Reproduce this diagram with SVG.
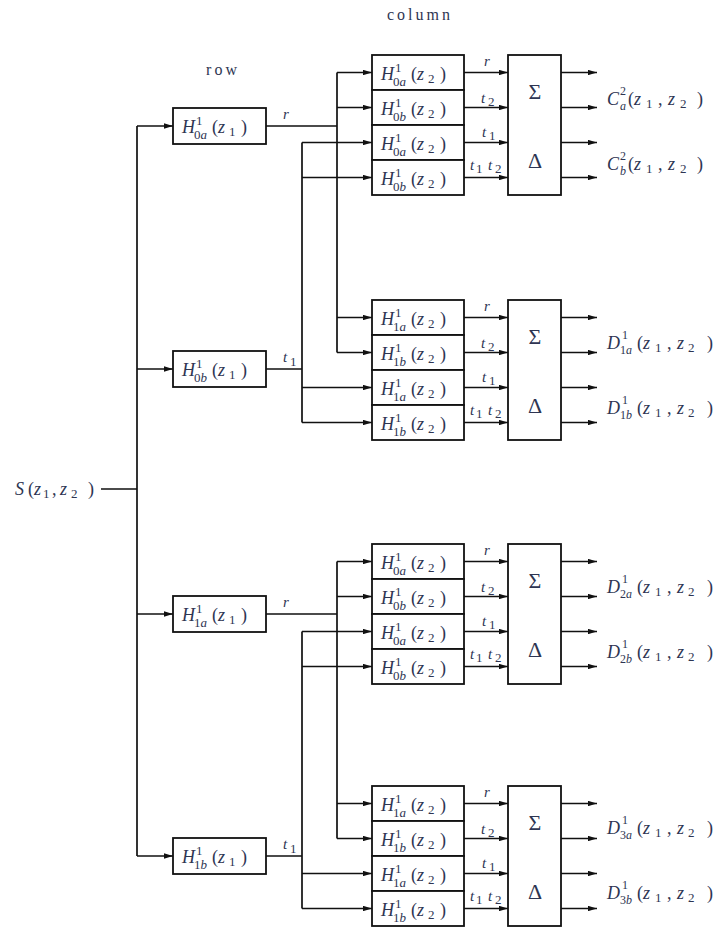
<svg xmlns="http://www.w3.org/2000/svg" width="720" height="927" viewBox="0 0 720 927">
<defs>
<marker id="ah" viewBox="0 0 10 6" refX="10" refY="3" markerWidth="9" markerHeight="5.4" markerUnits="userSpaceOnUse" orient="auto"><path d="M0,0L10,3L0,6z" fill="#111"/></marker>
</defs>
<style>
rect{fill:#fff;stroke:#111;stroke-width:1.8}
text{fill:#2e3552}
.m{font:italic 18px "Liberation Serif",serif}
.r{font:18px "Liberation Serif",serif}
.s{font:13px "Liberation Serif",serif}
.t{font:12px "Liberation Serif",serif}
.ti{font:italic 12px "Liberation Serif",serif}
.l{font:italic 15px "Liberation Serif",serif}
.g{font:22px "Liberation Serif",serif;text-anchor:middle}
.w{font:16px "Liberation Serif",serif}
#wires path{fill:none;stroke:#111;stroke-width:1.7}
#wires path.a{marker-end:url(#ah)}
</style>
<rect width="720" height="927" style="fill:#fff;stroke:none"/>
<text class="w" x="387" y="20" textLength="63">column</text>
<text class="w" x="206" y="75" textLength="31">row</text>

<g id="wires">
<path d="M137,126V856M101,489H137"/>
<path class="a" d="M137,126H173"/>
<path class="a" d="M137,369H173"/>
<path class="a" d="M137,614H173"/>
<path class="a" d="M137,856H173"/>
<path d="M266,126H337M337,72.5V352.5M266,369H302M302,142.5V422.5M266,614H337M337,561.5V838.5M266,856H302M302,631.5V908.5"/>
<path class="a" d="M337,72.5H372"/><path class="a" d="M337,107.5H372"/><path class="a" d="M302,142.5H372"/><path class="a" d="M302,177.5H372"/>
<path class="a" d="M337,317.5H372"/><path class="a" d="M337,352.5H372"/><path class="a" d="M302,387.5H372"/><path class="a" d="M302,422.5H372"/>
<path class="a" d="M337,561.5H372"/><path class="a" d="M337,596.5H372"/><path class="a" d="M302,631.5H372"/><path class="a" d="M302,666.5H372"/>
<path class="a" d="M337,803.5H372"/><path class="a" d="M337,838.5H372"/><path class="a" d="M302,873.5H372"/><path class="a" d="M302,908.5H372"/>
<path class="a" d="M464,72.5H508"/><path class="a" d="M464,107.5H508"/><path class="a" d="M464,142.5H508"/><path class="a" d="M464,177.5H508"/>
<path class="a" d="M464,317.5H508"/><path class="a" d="M464,352.5H508"/><path class="a" d="M464,387.5H508"/><path class="a" d="M464,422.5H508"/>
<path class="a" d="M464,561.5H508"/><path class="a" d="M464,596.5H508"/><path class="a" d="M464,631.5H508"/><path class="a" d="M464,666.5H508"/>
<path class="a" d="M464,803.5H508"/><path class="a" d="M464,838.5H508"/><path class="a" d="M464,873.5H508"/><path class="a" d="M464,908.5H508"/>
<path class="a" d="M561,72.5H597"/><path class="a" d="M561,107.5H597"/><path class="a" d="M561,142.5H597"/><path class="a" d="M561,177.5H597"/>
<path class="a" d="M561,317.5H597"/><path class="a" d="M561,352.5H597"/><path class="a" d="M561,387.5H597"/><path class="a" d="M561,422.5H597"/>
<path class="a" d="M561,561.5H597"/><path class="a" d="M561,596.5H597"/><path class="a" d="M561,631.5H597"/><path class="a" d="M561,666.5H597"/>
<path class="a" d="M561,803.5H597"/><path class="a" d="M561,838.5H597"/><path class="a" d="M561,873.5H597"/><path class="a" d="M561,908.5H597"/>
</g>

<g id="wire-labels">
<text class="l" x="283" y="119">r</text>
<text class="l" x="283" y="362">t</text><text class="s" x="290" y="366">1</text>
<text class="l" x="283" y="607">r</text>
<text class="l" x="283" y="849">t</text><text class="s" x="290" y="853">1</text>
<text class="l" x="484" y="66">r</text>
<text class="l" x="481" y="103">t</text><text class="s" x="488" y="106">2</text>
<text class="l" x="482" y="137">t</text><text class="s" x="489" y="140">1</text>
<text class="l" x="470" y="170">t</text><text class="s" x="476" y="173">1</text><text class="l" x="488" y="170">t</text><text class="s" x="495" y="173">2</text>
<text class="l" x="484" y="311">r</text>
<text class="l" x="481" y="348">t</text><text class="s" x="488" y="351">2</text>
<text class="l" x="482" y="382">t</text><text class="s" x="489" y="385">1</text>
<text class="l" x="470" y="415">t</text><text class="s" x="476" y="418">1</text><text class="l" x="488" y="415">t</text><text class="s" x="495" y="418">2</text>
<text class="l" x="484" y="555">r</text>
<text class="l" x="481" y="592">t</text><text class="s" x="488" y="595">2</text>
<text class="l" x="482" y="626">t</text><text class="s" x="489" y="629">1</text>
<text class="l" x="470" y="659">t</text><text class="s" x="476" y="662">1</text><text class="l" x="488" y="659">t</text><text class="s" x="495" y="662">2</text>
<text class="l" x="484" y="797">r</text>
<text class="l" x="481" y="834">t</text><text class="s" x="488" y="837">2</text>
<text class="l" x="482" y="868">t</text><text class="s" x="489" y="871">1</text>
<text class="l" x="470" y="901">t</text><text class="s" x="476" y="904">1</text><text class="l" x="488" y="901">t</text><text class="s" x="495" y="904">2</text>
</g>

<g id="input">
<text class="m" x="15" y="495">S</text><text class="r" x="28" y="495">(</text><text class="m" x="34" y="495">z</text><text class="s" x="43" y="498">1</text><text class="r" x="52" y="495">,</text><text class="m" x="60" y="495">z</text><text class="s" x="71" y="498">2</text><text class="r" x="88" y="495">)</text>
</g>

<!-- row filters -->
<g id="row-0a" transform="translate(173,108)"><rect width="93" height="36"/><text class="m" x="9" y="25">H</text><text class="s" x="23" y="17">1</text><text class="s" x="21" y="31">0<tspan font-style="italic">a</tspan></text><text class="r" x="39" y="25">(</text><text class="m" x="45" y="25">z</text><text class="s" x="56" y="28">1</text><text class="r" x="68" y="25">)</text></g>
<g id="row-0b" transform="translate(173,351)"><rect width="93" height="36"/><text class="m" x="9" y="25">H</text><text class="s" x="23" y="17">1</text><text class="s" x="21" y="31">0<tspan font-style="italic">b</tspan></text><text class="r" x="39" y="25">(</text><text class="m" x="45" y="25">z</text><text class="s" x="56" y="28">1</text><text class="r" x="68" y="25">)</text></g>
<g id="row-1a" transform="translate(173,596)"><rect width="93" height="36"/><text class="m" x="9" y="25">H</text><text class="s" x="23" y="17">1</text><text class="s" x="21" y="31">1<tspan font-style="italic">a</tspan></text><text class="r" x="39" y="25">(</text><text class="m" x="45" y="25">z</text><text class="s" x="56" y="28">1</text><text class="r" x="68" y="25">)</text></g>
<g id="row-1b" transform="translate(173,838)"><rect width="93" height="36"/><text class="m" x="9" y="25">H</text><text class="s" x="23" y="17">1</text><text class="s" x="21" y="31">1<tspan font-style="italic">b</tspan></text><text class="r" x="39" y="25">(</text><text class="m" x="45" y="25">z</text><text class="s" x="56" y="28">1</text><text class="r" x="68" y="25">)</text></g>

<!-- column filters group 1 -->
<g id="col-1-1" transform="translate(372,55)"><rect width="92" height="35"/><text class="m" x="9" y="25">H</text><text class="s" x="23" y="17">1</text><text class="s" x="21" y="31">0<tspan font-style="italic">a</tspan></text><text class="r" x="39" y="25">(</text><text class="m" x="45" y="25">z</text><text class="s" x="56" y="28">2</text><text class="r" x="68" y="25">)</text></g>
<g id="col-1-2" transform="translate(372,90)"><rect width="92" height="35"/><text class="m" x="9" y="25">H</text><text class="s" x="23" y="17">1</text><text class="s" x="21" y="31">0<tspan font-style="italic">b</tspan></text><text class="r" x="39" y="25">(</text><text class="m" x="45" y="25">z</text><text class="s" x="56" y="28">2</text><text class="r" x="68" y="25">)</text></g>
<g id="col-1-3" transform="translate(372,125)"><rect width="92" height="35"/><text class="m" x="9" y="25">H</text><text class="s" x="23" y="17">1</text><text class="s" x="21" y="31">0<tspan font-style="italic">a</tspan></text><text class="r" x="39" y="25">(</text><text class="m" x="45" y="25">z</text><text class="s" x="56" y="28">2</text><text class="r" x="68" y="25">)</text></g>
<g id="col-1-4" transform="translate(372,160)"><rect width="92" height="35"/><text class="m" x="9" y="25">H</text><text class="s" x="23" y="17">1</text><text class="s" x="21" y="31">0<tspan font-style="italic">b</tspan></text><text class="r" x="39" y="25">(</text><text class="m" x="45" y="25">z</text><text class="s" x="56" y="28">2</text><text class="r" x="68" y="25">)</text></g>
<!-- group 2 -->
<g id="col-2-1" transform="translate(372,300)"><rect width="92" height="35"/><text class="m" x="9" y="25">H</text><text class="s" x="23" y="17">1</text><text class="s" x="21" y="31">1<tspan font-style="italic">a</tspan></text><text class="r" x="39" y="25">(</text><text class="m" x="45" y="25">z</text><text class="s" x="56" y="28">2</text><text class="r" x="68" y="25">)</text></g>
<g id="col-2-2" transform="translate(372,335)"><rect width="92" height="35"/><text class="m" x="9" y="25">H</text><text class="s" x="23" y="17">1</text><text class="s" x="21" y="31">1<tspan font-style="italic">b</tspan></text><text class="r" x="39" y="25">(</text><text class="m" x="45" y="25">z</text><text class="s" x="56" y="28">2</text><text class="r" x="68" y="25">)</text></g>
<g id="col-2-3" transform="translate(372,370)"><rect width="92" height="35"/><text class="m" x="9" y="25">H</text><text class="s" x="23" y="17">1</text><text class="s" x="21" y="31">1<tspan font-style="italic">a</tspan></text><text class="r" x="39" y="25">(</text><text class="m" x="45" y="25">z</text><text class="s" x="56" y="28">2</text><text class="r" x="68" y="25">)</text></g>
<g id="col-2-4" transform="translate(372,405)"><rect width="92" height="35"/><text class="m" x="9" y="25">H</text><text class="s" x="23" y="17">1</text><text class="s" x="21" y="31">1<tspan font-style="italic">b</tspan></text><text class="r" x="39" y="25">(</text><text class="m" x="45" y="25">z</text><text class="s" x="56" y="28">2</text><text class="r" x="68" y="25">)</text></g>
<!-- group 3 -->
<g id="col-3-1" transform="translate(372,544)"><rect width="92" height="35"/><text class="m" x="9" y="25">H</text><text class="s" x="23" y="17">1</text><text class="s" x="21" y="31">0<tspan font-style="italic">a</tspan></text><text class="r" x="39" y="25">(</text><text class="m" x="45" y="25">z</text><text class="s" x="56" y="28">2</text><text class="r" x="68" y="25">)</text></g>
<g id="col-3-2" transform="translate(372,579)"><rect width="92" height="35"/><text class="m" x="9" y="25">H</text><text class="s" x="23" y="17">1</text><text class="s" x="21" y="31">0<tspan font-style="italic">b</tspan></text><text class="r" x="39" y="25">(</text><text class="m" x="45" y="25">z</text><text class="s" x="56" y="28">2</text><text class="r" x="68" y="25">)</text></g>
<g id="col-3-3" transform="translate(372,614)"><rect width="92" height="35"/><text class="m" x="9" y="25">H</text><text class="s" x="23" y="17">1</text><text class="s" x="21" y="31">0<tspan font-style="italic">a</tspan></text><text class="r" x="39" y="25">(</text><text class="m" x="45" y="25">z</text><text class="s" x="56" y="28">2</text><text class="r" x="68" y="25">)</text></g>
<g id="col-3-4" transform="translate(372,649)"><rect width="92" height="35"/><text class="m" x="9" y="25">H</text><text class="s" x="23" y="17">1</text><text class="s" x="21" y="31">0<tspan font-style="italic">b</tspan></text><text class="r" x="39" y="25">(</text><text class="m" x="45" y="25">z</text><text class="s" x="56" y="28">2</text><text class="r" x="68" y="25">)</text></g>
<!-- group 4 -->
<g id="col-4-1" transform="translate(372,786)"><rect width="92" height="35"/><text class="m" x="9" y="25">H</text><text class="s" x="23" y="17">1</text><text class="s" x="21" y="31">1<tspan font-style="italic">a</tspan></text><text class="r" x="39" y="25">(</text><text class="m" x="45" y="25">z</text><text class="s" x="56" y="28">2</text><text class="r" x="68" y="25">)</text></g>
<g id="col-4-2" transform="translate(372,821)"><rect width="92" height="35"/><text class="m" x="9" y="25">H</text><text class="s" x="23" y="17">1</text><text class="s" x="21" y="31">1<tspan font-style="italic">b</tspan></text><text class="r" x="39" y="25">(</text><text class="m" x="45" y="25">z</text><text class="s" x="56" y="28">2</text><text class="r" x="68" y="25">)</text></g>
<g id="col-4-3" transform="translate(372,856)"><rect width="92" height="35"/><text class="m" x="9" y="25">H</text><text class="s" x="23" y="17">1</text><text class="s" x="21" y="31">1<tspan font-style="italic">a</tspan></text><text class="r" x="39" y="25">(</text><text class="m" x="45" y="25">z</text><text class="s" x="56" y="28">2</text><text class="r" x="68" y="25">)</text></g>
<g id="col-4-4" transform="translate(372,891)"><rect width="92" height="35"/><text class="m" x="9" y="25">H</text><text class="s" x="23" y="17">1</text><text class="s" x="21" y="31">1<tspan font-style="italic">b</tspan></text><text class="r" x="39" y="25">(</text><text class="m" x="45" y="25">z</text><text class="s" x="56" y="28">2</text><text class="r" x="68" y="25">)</text></g>

<!-- sum/difference blocks -->
<g id="sd-1" transform="translate(508,55)"><rect width="53" height="140"/><text class="g" x="27" y="44">Σ</text><text class="g" x="27" y="113">Δ</text></g>
<g id="sd-2" transform="translate(508,300)"><rect width="53" height="140"/><text class="g" x="27" y="44">Σ</text><text class="g" x="27" y="113">Δ</text></g>
<g id="sd-3" transform="translate(508,544)"><rect width="53" height="140"/><text class="g" x="27" y="44">Σ</text><text class="g" x="27" y="113">Δ</text></g>
<g id="sd-4" transform="translate(508,786)"><rect width="53" height="140"/><text class="g" x="27" y="44">Σ</text><text class="g" x="27" y="113">Δ</text></g>

<!-- outputs -->
<g id="out-ca"><text class="m" x="607" y="105">C</text><text class="t" x="620" y="95">2</text><text class="ti" x="620" y="110">a</text><text class="r" x="628" y="105">(</text><text class="m" x="634" y="105">z</text><text class="s" x="646" y="108">1</text><text class="r" x="658" y="105">,</text><text class="m" x="668" y="105">z</text><text class="s" x="680" y="108">2</text><text class="r" x="697" y="105">)</text></g>
<g id="out-cb"><text class="m" x="607" y="170">C</text><text class="t" x="620" y="160">2</text><text class="ti" x="620" y="175">b</text><text class="r" x="628" y="170">(</text><text class="m" x="634" y="170">z</text><text class="s" x="646" y="173">1</text><text class="r" x="658" y="170">,</text><text class="m" x="668" y="170">z</text><text class="s" x="680" y="173">2</text><text class="r" x="697" y="170">)</text></g>

<g id="out-d1a"><text class="m" x="607" y="349">D</text><text class="t" x="622" y="339">1</text><text class="t" x="620" y="354">1<tspan font-style="italic">a</tspan></text><text class="r" x="637" y="349">(</text><text class="m" x="643" y="349">z</text><text class="s" x="655" y="352">1</text><text class="r" x="667" y="349">,</text><text class="m" x="677" y="349">z</text><text class="s" x="688" y="352">2</text><text class="r" x="707" y="349">)</text></g>
<g id="out-d1b"><text class="m" x="607" y="414">D</text><text class="t" x="622" y="404">1</text><text class="t" x="620" y="419">1<tspan font-style="italic">b</tspan></text><text class="r" x="637" y="414">(</text><text class="m" x="643" y="414">z</text><text class="s" x="655" y="417">1</text><text class="r" x="667" y="414">,</text><text class="m" x="677" y="414">z</text><text class="s" x="688" y="417">2</text><text class="r" x="707" y="414">)</text></g>

<g id="out-d2a"><text class="m" x="607" y="593">D</text><text class="t" x="622" y="583">1</text><text class="t" x="620" y="598">2<tspan font-style="italic">a</tspan></text><text class="r" x="637" y="593">(</text><text class="m" x="643" y="593">z</text><text class="s" x="655" y="596">1</text><text class="r" x="667" y="593">,</text><text class="m" x="677" y="593">z</text><text class="s" x="688" y="596">2</text><text class="r" x="707" y="593">)</text></g>
<g id="out-d2b"><text class="m" x="607" y="658">D</text><text class="t" x="622" y="648">1</text><text class="t" x="620" y="663">2<tspan font-style="italic">b</tspan></text><text class="r" x="637" y="658">(</text><text class="m" x="643" y="658">z</text><text class="s" x="655" y="661">1</text><text class="r" x="667" y="658">,</text><text class="m" x="677" y="658">z</text><text class="s" x="688" y="661">2</text><text class="r" x="707" y="658">)</text></g>

<g id="out-d3a"><text class="m" x="607" y="834">D</text><text class="t" x="622" y="824">1</text><text class="t" x="620" y="839">3<tspan font-style="italic">a</tspan></text><text class="r" x="637" y="834">(</text><text class="m" x="643" y="834">z</text><text class="s" x="655" y="837">1</text><text class="r" x="667" y="834">,</text><text class="m" x="677" y="834">z</text><text class="s" x="688" y="837">2</text><text class="r" x="707" y="834">)</text></g>
<g id="out-d3b"><text class="m" x="607" y="899">D</text><text class="t" x="622" y="889">1</text><text class="t" x="620" y="904">3<tspan font-style="italic">b</tspan></text><text class="r" x="637" y="899">(</text><text class="m" x="643" y="899">z</text><text class="s" x="655" y="902">1</text><text class="r" x="667" y="899">,</text><text class="m" x="677" y="899">z</text><text class="s" x="688" y="902">2</text><text class="r" x="707" y="899">)</text></g>
</svg>
